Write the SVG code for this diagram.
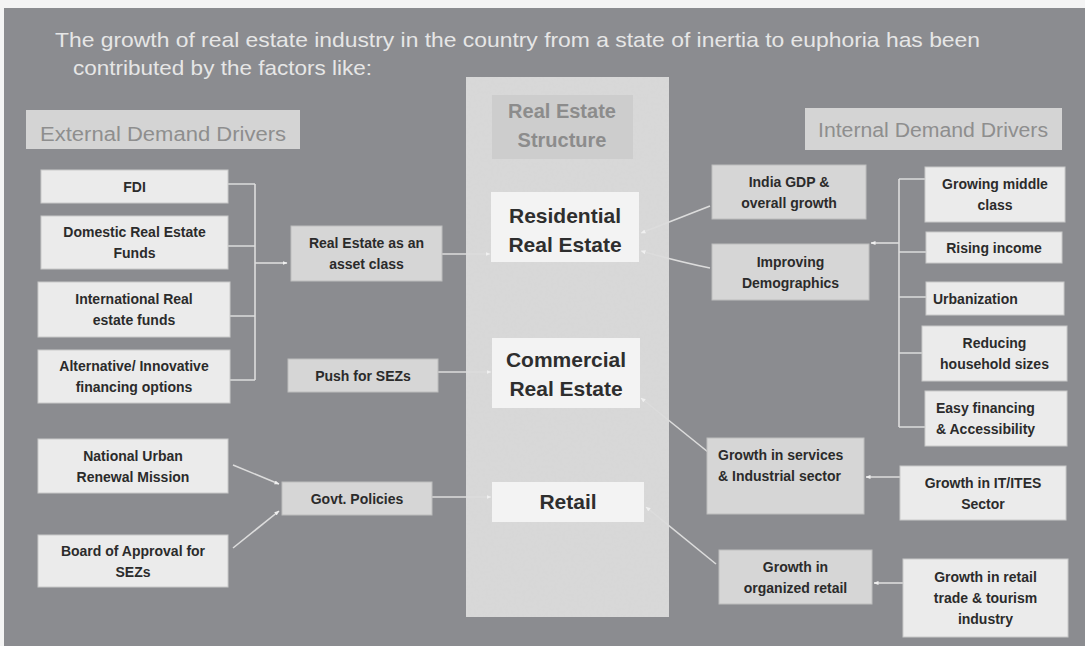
<svg xmlns="http://www.w3.org/2000/svg" width="1085" height="646" viewBox="0 0 1085 646">
<style>
.bg{fill:#8b8c90}
.lt{fill:#ebebeb;stroke:#c9c9c9;stroke-width:1}
.md{fill:#d6d6d6;stroke:#bdbdbd;stroke-width:1}
.wh{fill:#f3f3f3}
.t{font-family:"Liberation Sans",Arial,sans-serif;font-weight:bold;font-size:14px;fill:#2b2b2b;text-anchor:middle}
.tl{text-anchor:start}
.big{font-family:"Liberation Sans",Arial,sans-serif;font-weight:bold;font-size:21px;fill:#2e2e2e;text-anchor:middle}
.hd{font-family:"Liberation Sans",Arial,sans-serif;font-size:20px;fill:#8e8e8e;text-anchor:middle}
.title{font-family:"Liberation Sans",Arial,sans-serif;font-size:21px;fill:#e6e6e6}
.c{stroke:#dcdcdc;stroke-width:1.6;fill:none}
</style>
<defs>
<marker id="ah" viewBox="0 0 10 10" refX="9" refY="5" markerWidth="5" markerHeight="5" orient="auto" markerUnits="userSpaceOnUse">
<path d="M0,1 L10,5 L0,9 Z" fill="#f0f0f0"/>
</marker>
<filter id="grain" x="0" y="0" width="100%" height="100%">
<feTurbulence type="fractalNoise" baseFrequency="0.35" numOctaves="2" seed="3" result="n"/>
<feColorMatrix in="n" type="matrix" values="0 0 0 0 0.55  0 0 0 0 0.55  0 0 0 0 0.55  0 0 0 0.12 0" result="g"/>
<feComposite in="g" in2="SourceGraphic" operator="atop"/>
</filter>
</defs>
<rect x="0" y="0" width="1085" height="646" fill="#f4f4f4"/>
<rect class="bg" x="4" y="8" width="1081" height="638"/>
<g id="title">
<text class="title" x="55" y="47" textLength="925" lengthAdjust="spacingAndGlyphs">The growth of real estate industry in the country from a state of inertia to euphoria has been</text>
<text class="title" x="73" y="75" textLength="299" lengthAdjust="spacingAndGlyphs">contributed by the factors like:</text>
</g>
<g id="external-header">
<rect x="26" y="110" width="274" height="39" fill="#d4d4d4"/>
<text class="hd" x="163" y="141" textLength="246" lengthAdjust="spacingAndGlyphs">External Demand Drivers</text>
</g>
<g id="internal-header">
<rect x="805" y="108" width="257" height="42" fill="#d4d4d4"/>
<text class="hd" x="933" y="137" textLength="230" lengthAdjust="spacingAndGlyphs">Internal Demand Drivers</text>
</g>
<g id="structure-column">
<rect x="466" y="77" width="203" height="540" fill="#d9d9d9" filter="url(#grain)"/>
<rect x="492" y="95" width="141" height="64" fill="#cdcdcd"/>
<text class="big" x="562" y="118" style="font-size:20px;fill:#8c8c8c">Real Estate</text>
<text class="big" x="562" y="147" style="font-size:20px;fill:#8c8c8c">Structure</text>
</g>
<g id="connectors">
<path class="c" d="M228,184 H255 M228,246 H255 M230,316 H255 M230,380 H255 M255,184 V380"/>
<path class="c" d="M255,263 H287" marker-end="url(#ah)"/>
<path class="c" d="M442,254 H490" marker-end="url(#ah)"/>
<path class="c" d="M438,372 H491" marker-end="url(#ah)"/>
<path class="c" d="M432,497 H491" marker-end="url(#ah)"/>
<path class="c" d="M233,465 L279,484" marker-end="url(#ah)"/>
<path class="c" d="M233,548 L279,511" marker-end="url(#ah)"/>
<path class="c" d="M710,206 L641,233" marker-end="url(#ah)"/>
<path class="c" d="M710,268 Q680,262 641,251" marker-end="url(#ah)"/>
<path class="c" d="M899,179 H925 M899,252 H926 M899,297 H926 M899,353 H922 M899,427 H925 M899,179 V427"/>
<path class="c" d="M899,243 H871" marker-end="url(#ah)"/>
<path class="c" d="M708,452 L641,398" marker-end="url(#ah)"/>
<path class="c" d="M716,564 L646,507" marker-end="url(#ah)"/>
<path class="c" d="M900,477 H866" marker-end="url(#ah)"/>
<path class="c" d="M903,583 H874" marker-end="url(#ah)"/>
</g>
<g id="fdi"><rect class="lt" x="41" y="170" width="187" height="33"/><text class="t" x="134.5" y="191.5">FDI</text></g>
<g id="domestic"><rect class="lt" x="41" y="216" width="187" height="53"/><text class="t" x="134.5" y="237">Domestic Real Estate</text><text class="t" x="134.5" y="258">Funds</text></g>
<g id="international"><rect class="lt" x="38" y="282" width="192" height="55"/><text class="t" x="134" y="304">International Real</text><text class="t" x="134" y="325">estate funds</text></g>
<g id="alternative"><rect class="lt" x="38" y="350" width="192" height="53"/><text class="t" x="134" y="371">Alternative/ Innovative</text><text class="t" x="134" y="392">financing options</text></g>
<g id="nurm"><rect class="lt" x="38" y="439" width="190" height="54"/><text class="t" x="133" y="460.5">National Urban</text><text class="t" x="133" y="481.5">Renewal Mission</text></g>
<g id="board"><rect class="lt" x="38" y="535" width="190" height="52"/><text class="t" x="133" y="555.5">Board of Approval for</text><text class="t" x="133" y="576.5">SEZs</text></g>
<g id="asset-class"><rect class="md" x="291" y="226" width="151" height="55"/><text class="t" x="366.5" y="248">Real Estate as an</text><text class="t" x="366.5" y="269">asset class</text></g>
<g id="push-sez"><rect class="md" x="288" y="359" width="150" height="33"/><text class="t" x="363" y="380.5">Push for SEZs</text></g>
<g id="govt"><rect class="md" x="282" y="482" width="150" height="33"/><text class="t" x="357" y="503.5">Govt. Policies</text></g>
<g id="residential"><rect class="wh" x="491" y="192" width="148" height="70"/><text class="big" x="565" y="223">Residential</text><text class="big" x="565" y="252">Real Estate</text></g>
<g id="commercial"><rect class="wh" x="492" y="338" width="148" height="70"/><text class="big" x="566" y="367">Commercial</text><text class="big" x="566" y="396">Real Estate</text></g>
<g id="retail"><rect class="wh" x="492" y="482" width="152" height="40"/><text class="big" x="568" y="509">Retail</text></g>
<g id="gdp"><rect class="md" x="712" y="165" width="154" height="54"/><text class="t" x="789" y="186.5">India GDP &amp;</text><text class="t" x="789" y="207.5">overall growth</text></g>
<g id="demographics"><rect class="md" x="712" y="244" width="157" height="56"/><text class="t" x="790.5" y="266.5">Improving</text><text class="t" x="790.5" y="287.5">Demographics</text></g>
<g id="middle-class"><rect class="lt" x="925" y="167" width="140" height="55"/><text class="t" x="995" y="189">Growing middle</text><text class="t" x="995" y="210">class</text></g>
<g id="rising-income"><rect class="lt" x="926" y="232" width="136" height="31"/><text class="t" x="994" y="252.5">Rising income</text></g>
<g id="urbanization"><rect class="lt" x="926" y="282" width="138" height="33"/><text class="t tl" x="933" y="303.5">Urbanization</text></g>
<g id="household"><rect class="lt" x="922" y="326" width="145" height="55"/><text class="t" x="994.5" y="348">Reducing</text><text class="t" x="994.5" y="369">household sizes</text></g>
<g id="financing"><rect class="lt" x="925" y="391" width="142" height="55"/><text class="t tl" x="936" y="413">Easy financing</text><text class="t tl" x="936" y="434">&amp; Accessibility</text></g>
<g id="services"><rect class="md" x="707" y="438" width="157" height="76"/><text class="t tl" x="718" y="460">Growth in services</text><text class="t tl" x="718" y="481">&amp; Industrial sector</text></g>
<g id="it-ites"><rect class="lt" x="900" y="466" width="166" height="54"/><text class="t" x="983" y="487.5">Growth in IT/ITES</text><text class="t" x="983" y="508.5">Sector</text></g>
<g id="organized-retail"><rect class="md" x="719" y="550" width="153" height="54"/><text class="t" x="795.5" y="571.5">Growth in</text><text class="t" x="795.5" y="592.5">organized retail</text></g>
<g id="retail-trade"><rect class="lt" x="903" y="559" width="165" height="78"/><text class="t" x="985.5" y="582">Growth in retail</text><text class="t" x="985.5" y="603">trade &amp; tourism</text><text class="t" x="985.5" y="624">industry</text></g>
</svg>
